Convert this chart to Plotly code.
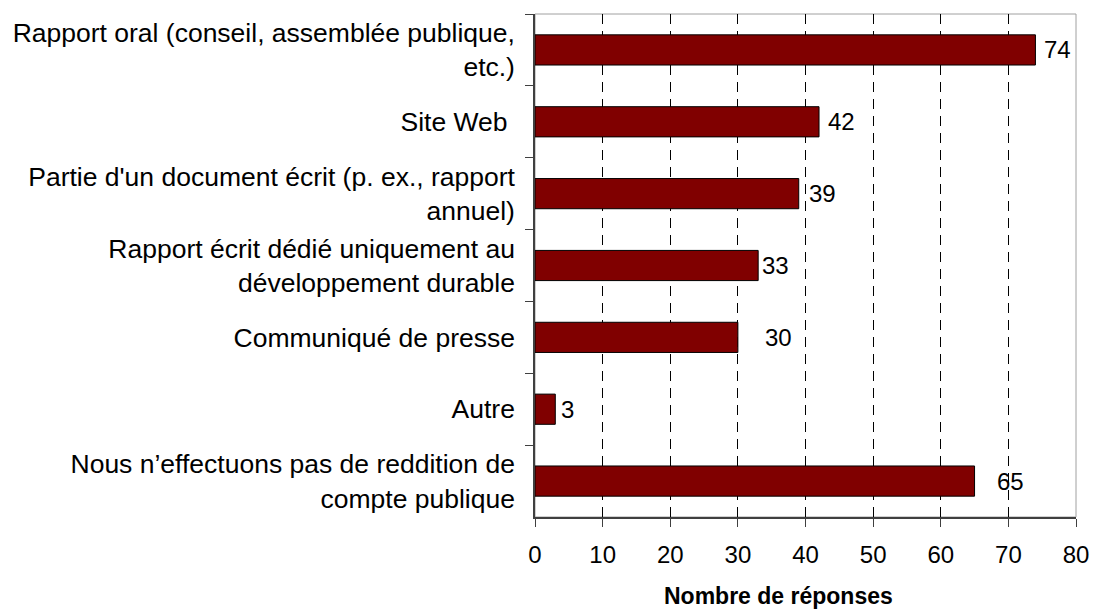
import plotly.graph_objects as go

# Modes de reddition de compte publique (nombre de réponses)
categories = [
    "Rapport oral (conseil, assemblée publique,<br>etc.)",
    "Site Web\u00a0",
    "Partie d'un document écrit (p. ex., rapport<br>annuel)",
    "Rapport écrit dédié uniquement au<br>développement durable",
    "Communiqué de presse",
    "Autre",
    "Nous n’effectuons pas de reddition de<br>compte publique",
]
responses = [74, 42, 39, 33, 30, 3, 65]
x_ticks = [0, 10, 20, 30, 40, 50, 60, 70, 80]

# horizontal offset (px) of each value label from the end of its bar
label_shift = [7, 7, 8, 2, 25, 4, 20]

FONT = "Liberation Sans, Arial, sans-serif"

fig = go.Figure(
    go.Bar(
        x=responses,
        y=categories,
        orientation="h",
        marker=dict(color="#800000", line=dict(color="#000000", width=1)),
        hoverinfo="x+y",
    )
)

for cat, val, dx in zip(categories, responses, label_shift):
    fig.add_annotation(
        x=val, y=cat, text=str(val), showarrow=False,
        xanchor="left", yanchor="middle", xshift=dx,
        font=dict(family=FONT, size=24, color="#000000"),
    )

# light frame on top and right of the plot area
fig.add_shape(
    type="rect", xref="x domain", yref="y domain", x0=0, x1=1, y0=0, y1=1,
    line=dict(color="#a0a0a0", width=1), layer="below",
)

fig.add_annotation(
    text="<b>Nombre de réponses</b>", xref="paper", yref="paper",
    x=0.451, y=-0.157, xanchor="center", yanchor="middle", showarrow=False,
    font=dict(family=FONT, size=23, color="#000000"),
)

fig.update_layout(
    width=1093, height=612,
    margin=dict(l=535, r=17, t=14, b=95, autoexpand=False),
    paper_bgcolor="white", plot_bgcolor="white",
    bargap=0.58,
    showlegend=False,
    font=dict(family=FONT, color="#000000"),
)

fig.update_xaxes(
    range=[0, 80], tickvals=x_ticks, automargin=False,
    showgrid=True, gridcolor="#000000", gridwidth=1, griddash="10px,7px",
    showline=True, linecolor="#404040", linewidth=1.5,
    ticks="outside", ticklen=8, tickcolor="#404040",
    ticklabelstandoff=7,
    tickfont=dict(family=FONT, size=24, color="#000000"),
    zeroline=False,
)

fig.update_yaxes(
    autorange="reversed", tickson="boundaries", automargin=False,
    showgrid=False, showline=True, linecolor="#404040", linewidth=1.5,
    ticks="outside", ticklen=8, tickcolor="#404040",
    ticklabelstandoff=13,
    tickfont=dict(family=FONT, size=26.5, color="#000000"),
)

fig.write_html("out.html")
